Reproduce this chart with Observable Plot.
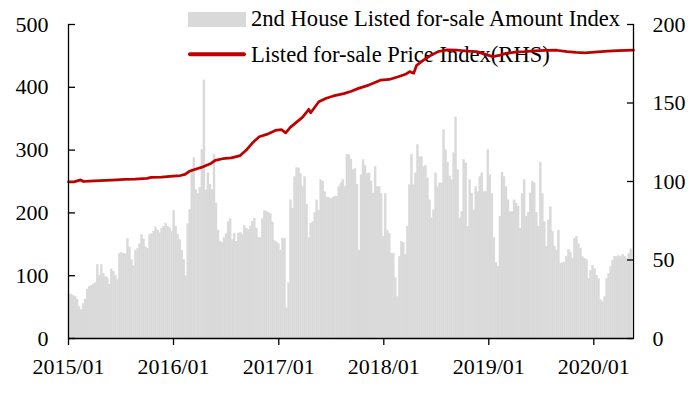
<!DOCTYPE html>
<html><head><meta charset="utf-8">
<script src="https://cdn.jsdelivr.net/npm/d3@7"></script>
<script src="https://cdn.jsdelivr.net/npm/@observablehq/plot@0.6"></script>
<style>
html,body{margin:0;padding:0;background:#fff;}
#wrap{position:relative;width:700px;height:393px;}
#legend{position:absolute;left:0;top:0;z-index:0;font-family:'Liberation Serif','Times New Roman',serif;}
#chart{position:absolute;left:0;top:0;z-index:1;}
</style></head><body>
<div id="wrap"><svg id="legend" width="700" height="80"></svg><div id="chart"></div></div>
<script>
// ---- data ----
const seriesNames = ["2nd House Listed for-sale Amount Index", "Listed for-sale Price Index(RHS)"];
const firstWeek = "2015-01-01";
const domainEnd = "2020-05-18";
// weekly listed-for-sale amount index (left axis), one value per week from firstWeek
const amountIndex = [
70,70,68,66,62,50,45,55,62,78,82,84,86,88,117,100,117,103,98,96,86,110,106,100,93,135,136,135,134,158,145,125,115,140,143,150,165,158,145,143,165,166,170,177,172,168,175,
178,183,178,176,170,203,178,165,157,140,125,99,182,205,270,287,236,230,240,300,411,236,263,245,236,292,215,172,154,152,160,166,185,190,157,167,154,167,168,165,179,175,173,178,186,
191,175,160,160,190,203,202,200,198,185,155,153,150,140,159,159,48,88,220,207,257,271,271,262,241,257,213,160,183,185,200,220,204,252,250,233,224,224,222,224,226,226,241,247,252,241,292,
292,285,268,270,245,140,260,284,275,262,263,250,231,273,241,241,230,162,230,172,167,135,135,96,66,130,154,152,133,178,244,292,244,263,308,289,289,273,275,255,220,191,204,263,241,247,247,
332,300,280,258,252,295,352,268,191,201,284,279,178,252,231,204,241,233,257,263,233,233,300,260,230,160,120,114,194,264,257,241,220,201,201,220,215,210,175,230,252,194,200,231,250,247,200,
178,280,230,185,146,188,209,170,146,140,172,119,120,121,130,141,137,127,159,162,150,143,130,127,125,95,108,116,111,100,95,61,58,66,95,103,114,124,130,130,131,130,133,130,127,135,142
];
// listed-for-sale price index (right axis)
const priceDates = [
"2015-01-01","2015-01-20","2015-02-12","2015-02-22","2015-03-15","2015-04-20","2015-06-01","2015-07-15","2015-08-20","2015-10-01","2015-10-15","2015-11-20","2015-12-20",
"2016-01-25","2016-02-10","2016-02-25","2016-03-20","2016-04-15","2016-05-10","2016-05-25","2016-06-20","2016-07-20","2016-08-20","2016-09-10","2016-10-01","2016-10-25","2016-11-20","2016-12-20",
"2017-01-10","2017-01-25","2017-02-10","2017-03-05","2017-03-25","2017-04-05","2017-04-15","2017-04-22","2017-05-20","2017-06-15","2017-07-10","2017-08-15","2017-09-10","2017-10-05","2017-11-10","2017-12-20",
"2018-01-20","2018-02-20","2018-03-20","2018-04-01","2018-04-15","2018-04-25","2018-05-20","2018-06-15","2018-07-10","2018-08-10","2018-09-15","2018-10-20","2018-11-20","2018-12-20",
"2019-01-15","2019-02-10","2019-03-01","2019-04-10","2019-05-05","2019-06-10","2019-07-15","2019-08-25","2019-09-30","2019-11-01","2019-12-01",
"2020-01-15","2020-02-20","2020-03-25","2020-05-18"
];
const priceIndex = [
99.7,99.8,101.0,100.0,100.2,100.6,100.9,101.3,101.5,102.0,102.6,102.8,103.3,
103.8,104.5,106.5,108.0,109.5,111.5,113.5,114.5,115.0,116.5,120.0,124.5,128.5,130.0,132.5,
133.0,131.0,134.5,138.0,141.0,143.5,146.0,143.8,150.8,153.0,154.5,156.0,157.5,159.3,161.4,164.5,
165.0,166.7,168.5,170.0,169.0,174.0,177.5,180.5,182.8,183.8,183.6,183.0,182.7,181.0,
179.5,180.5,181.6,182.5,182.7,183.2,183.5,183.6,182.7,182.2,182.0,
182.6,183.0,183.3,183.6
];
const xTickLabels = ["2015/01","2016/01","2017/01","2018/01","2019/01","2020/01"];
const leftTicks = [0,100,200,300,400,500];
const rightTicks = [0,50,100,150,200];
const rightToLeft = 500 / 200;

// ---- build tables ----
const t0 = new Date(firstWeek);
const weeks = amountIndex.map((v, i) => ({start: d3.utcDay.offset(t0, 7 * i), end: d3.utcDay.offset(t0, 7 * i + 7), v}));
const price = priceDates.map((d, i) => ({date: new Date(d), v: priceIndex[i]}));
const xTickDates = xTickLabels.map(s => { const [y, m] = s.split("/").map(Number); return new Date(Date.UTC(y, m - 1, 1)); });
const xDomain = [t0, new Date(domainEnd)];

const chart = Plot.plot({
  width: 700, height: 393,
  marginLeft: 68, marginRight: 67, marginTop: 24, marginBottom: 55,
  style: {fontFamily: "'Liberation Serif','Times New Roman',serif", fontSize: "22px", color: "#000", background: "transparent", overflow: "visible"},
  x: {type: "utc", domain: xDomain, label: null},
  y: {domain: [0, 500], label: null},
  marks: [
    Plot.rectY(weeks, {x1: "start", x2: "end", y: "v", fill: "#D9D9D9", stroke: "#D9D9D9", strokeWidth: 0.4}),
    Plot.lineY(price, {x: "date", y: d => d.v * rightToLeft, stroke: "#C00000", strokeWidth: 2.75, curve: "linear"}),
    Plot.ruleY([0], {stroke: "#000", strokeWidth: 1.3}),
    Plot.ruleX(xDomain, {stroke: "#000", strokeWidth: 1.3}),
    Plot.axisX({ticks: xTickDates, tickFormat: (d, i) => xTickLabels[i], tickSize: 7, tickPadding: 13, fontSize: 22, strokeWidth: 1.3}),
    Plot.axisY({anchor: "left", ticks: leftTicks, tickSize: -7, tickPadding: 27, fontSize: 22, strokeWidth: 1.3}),
    Plot.axisY({anchor: "right", ticks: rightTicks.map(v => v * rightToLeft), tickFormat: d => String(Math.round(d / rightToLeft)), tickSize: -7, tickPadding: 26, fontSize: 22, strokeWidth: 1.3})
  ]
});
document.getElementById("chart").appendChild(chart);

// legend (drawn behind the plot, inside the plot area like the reference)
const lg = d3.select("#legend");
lg.append("rect").attr("x", 188).attr("y", 12).attr("width", 58).attr("height", 15).attr("fill", "#D9D9D9");
lg.append("text").attr("x", 251).attr("y", 26).attr("font-size", 22.6).attr("fill", "#000").text(seriesNames[0]);
lg.append("line").attr("x1", 190).attr("x2", 244).attr("y1", 54.3).attr("y2", 54.3).attr("stroke", "#C00000").attr("stroke-width", 4).attr("stroke-linecap", "round");
lg.append("text").attr("x", 251).attr("y", 61.7).attr("font-size", 22.6).attr("fill", "#000").text(seriesNames[1]);
</script>
</body></html>
